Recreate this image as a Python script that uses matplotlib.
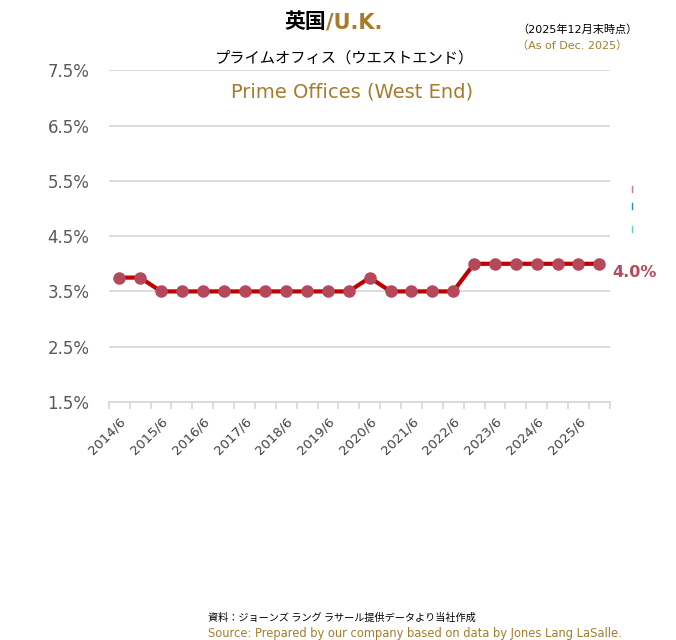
import numpy as np
import matplotlib
matplotlib.use("Agg")
from matplotlib import pyplot as plt

plt.rcParams["font.family"] = ["DejaVu Sans", "Noto Sans CJK JP"]

# 半期ごとのデータ (2014/6 - 2025/12)
periods = []
for y in range(2014, 2026):
    periods.append(f"{y}/6")
    periods.append(f"{y}/12")

yields = [3.75, 3.75, 3.5, 3.5, 3.5, 3.5, 3.5, 3.5, 3.5, 3.5, 3.5, 3.5,
          3.75, 3.5, 3.5, 3.5, 3.5, 4.0, 4.0, 4.0, 4.0, 4.0, 4.0, 4.0]

y_ticks = [1.5, 2.5, 3.5, 4.5, 5.5, 6.5, 7.5]
y_labels = ["1.5%", "2.5%", "3.5%", "4.5%", "5.5%", "6.5%", "7.5%"]

gold = "#A57C2C"
line_red = "#C00000"
marker_red = "#B5495B"
grid_gray = "#D9D9D9"

fig = plt.figure(figsize=(6.76, 6.4), dpi=100)
ax = fig.add_axes([0.161, 0.372, 0.741, 0.518])

x = np.arange(len(periods))
ax.plot(x, yields, color=line_red, lw=3, marker="o", ms=8,
        markerfacecolor=marker_red, markeredgecolor=marker_red, zorder=3)

ax.set_xlim(-0.5, len(periods) - 0.5)
ax.set_ylim(1.5, 7.5)
ax.set_yticks(y_ticks)
ax.set_yticklabels(y_labels, fontsize=12, color="#595959")
ax.tick_params(axis="y", length=0, pad=14)
ax.grid(axis="y", color=grid_gray, lw=1.3)
ax.set_axisbelow(True)

# tick marks between categories, labels every year
ax.set_xticks(np.arange(-0.5, len(periods), 1))
ax.set_xticklabels([])
ax.tick_params(axis="x", which="major", length=5, color=grid_gray, width=1.3)
ax.set_xticks(x[::2], minor=True)
ax.set_xticklabels(periods[::2], minor=True, rotation=45, ha="right",
                   rotation_mode="anchor", fontsize=9.5, color="#404040")
ax.tick_params(axis="x", which="minor", length=0, pad=9)

for s in ["top", "right", "left"]:
    ax.spines[s].set_visible(False)
ax.spines["bottom"].set_color(grid_gray)
ax.spines["bottom"].set_linewidth(1.3)

ax.annotate(f"{yields[-1]:.1f}%", (x[-1], yields[-1]), xytext=(9, -6),
            textcoords="offset points", fontsize=11.5, fontweight="bold",
            color=marker_red, va="center", ha="left")

# 右端の小さな凡例の名残
for yy, c in [(189, "#E07080"), (206, "#1E90D8"), (229, "#60D0B8")]:
    fig.add_artist(plt.Line2D([632 / 676, 632 / 676],
                              [1 - (yy - 3) / 640, 1 - (yy + 3) / 640],
                              color=c, lw=1))

# タイトル
fig.text(326 / 676, 1 - 22 / 640, "英国", fontsize=15, fontweight="bold",
         ha="right", va="center", color="black")
fig.text(326 / 676, 1 - 22 / 640, "/U.K.", fontsize=15, fontweight="bold",
         ha="left", va="center", color=gold)
fig.text(345 / 676, 1 - 58 / 640, "プライムオフィス（ウエストエンド）",
         fontsize=11, ha="center", va="center", color="black",
         family=["Noto Sans CJK JP"])
fig.text(352 / 676, 1 - 92 / 640, "Prime Offices (West End)",
         fontsize=14, ha="center", va="center", color=gold)
fig.text(517 / 676, 1 - 30 / 640, "（2025年12月末時点）", fontsize=8,
         ha="left", va="center", color="black",
         family=["DejaVu Sans", "Noto Sans CJK JP"])
fig.text(517 / 676, 1 - 46 / 640, "（As of Dec. 2025）", fontsize=8,
         ha="left", va="center", color=gold,
         family=["DejaVu Sans", "Noto Sans CJK JP"])

# 出典
fig.text(208 / 676, 1 - 618 / 640, "資料：ジョーンズ ラング ラサール提供データより当社作成",
         fontsize=7.3, ha="left", va="center", color="black",
         family=["Noto Sans CJK JP"])
fig.text(208 / 676, 1 - 633 / 640,
         "Source: Prepared by our company based on data by Jones Lang LaSalle.",
         fontsize=8.3, ha="left", va="center", color=gold)

fig.savefig("out.png", dpi=100)
